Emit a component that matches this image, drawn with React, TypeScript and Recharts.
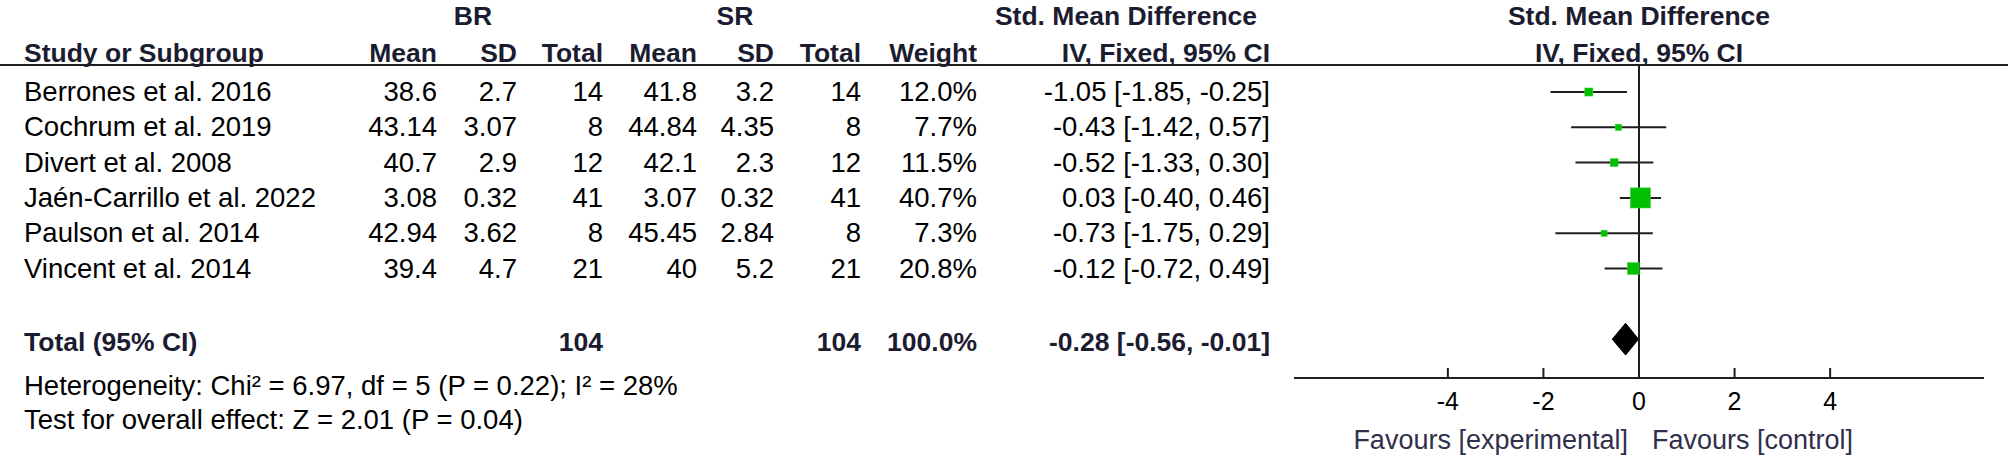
import React from 'react';
import { ComposedChart, Scatter, XAxis, YAxis, ReferenceLine, ErrorBar, Customized } from 'recharts';

// ---------- data ----------
const studies = [
  'Berrones et al. 2016',
  'Cochrum et al. 2019',
  'Divert et al. 2008',
  'Jaén-Carrillo et al. 2022',
  'Paulson et al. 2014',
  'Vincent et al. 2014',
];
const brMean = [38.6, 43.14, 40.7, 3.08, 42.94, 39.4];
const brSD = [2.7, 3.07, 2.9, 0.32, 3.62, 4.7];
const brTotal = [14, 8, 12, 41, 8, 21];
const srMean = [41.8, 44.84, 42.1, 3.07, 45.45, 40];
const srSD = [3.2, 4.35, 2.3, 0.32, 2.84, 5.2];
const srTotal = [14, 8, 12, 41, 8, 21];
const weights = [12.0, 7.7, 11.5, 40.7, 7.3, 20.8];
const smd = [-1.05, -0.43, -0.52, 0.03, -0.73, -0.12];
const ciLow = [-1.85, -1.42, -1.33, -0.4, -1.75, -0.72];
const ciHigh = [-0.25, 0.57, 0.3, 0.46, 0.29, 0.49];

const totalBR = 104;
const totalSR = 104;
const totalWeight = 100.0;
const totalSmd = -0.28;
const totalLow = -0.56;
const totalHigh = -0.01;

const heterogeneityText = 'Heterogeneity: Chi² = 6.97, df = 5 (P = 0.22); I² = 28%';
const overallText = 'Test for overall effect: Z = 2.01 (P = 0.04)';
const favoursLeft = 'Favours [experimental]';
const favoursRight = 'Favours [control]';

const xTicks = [-4, -2, 0, 2, 4];
const xDomain = [-7.22, 7.22];
const yDomain = [0.235, 9.1];
const TOTAL_ROW = 8;
const DIAMOND_HALF = 0.45;

// ---------- layout ----------
const W = 2008;
const H = 457;
const PLOT_LEFT = 1294;
const PLOT_RIGHT = 1984;
const PLOT_TOP = 65;
const AXIS_Y = 378;
const XAXIS_H = 30;

const FONT = '"Liberation Sans", Arial, Helvetica, sans-serif';
const TXT = '#000000';
const HEAD = '#1c1c30';
const FAV = '#30304a';
const GREEN = '#00c000';
const LINE = '#1e1e1e';

const FS = 27.5;
const FSB = 26.5;

const ROW_BASE0 = 101;
const ROW_STEP = 35.3;

const fmtCI = (m: number, l: number, h: number) => `${m.toFixed(2)} [${l.toFixed(2)}, ${h.toFixed(2)}]`;

const studyData = studies.map((s, i) => ({
  name: s,
  x: smd[i],
  y: i + 1,
  err: [smd[i] - ciLow[i], ciHigh[i] - smd[i]],
  w: weights[i],
}));

const diamondData = [
  { x: totalLow, y: TOTAL_ROW },
  { x: totalSmd, y: TOTAL_ROW - DIAMOND_HALF },
  { x: totalHigh, y: TOTAL_ROW },
  { x: totalSmd, y: TOTAL_ROW + DIAMOND_HALF },
  { x: totalLow, y: TOTAL_ROW },
];

type TProps = {
  x: number;
  y: number;
  anchor?: 'start' | 'middle' | 'end';
  bold?: boolean;
  size?: number;
  fill?: string;
  children: React.ReactNode;
};

const T = ({ x, y, anchor = 'end', bold = false, size, fill, children }: TProps) => (
  <text
    x={x}
    y={y}
    textAnchor={anchor}
    fontFamily={FONT}
    fontSize={size ?? (bold ? FSB : FS)}
    fontWeight={bold ? 700 : 400}
    fill={fill ?? (bold ? HEAD : TXT)}
  >
    {children}
  </text>
);

// column right edges
const COL = {
  study: 24,
  brMean: 437,
  brSD: 517,
  brTotal: 603,
  srMean: 697,
  srSD: 774,
  srTotal: 861,
  weight: 977,
  ci: 1270,
};

const Table = () => {
  const h1 = 25;
  const h2 = 62;
  const totalY = 351;
  return (
    <g>
      <line x1={0} x2={W} y1={PLOT_TOP} y2={PLOT_TOP} stroke={LINE} strokeWidth={2} />
      <T x={473} y={h1} anchor="middle" bold>BR</T>
      <T x={735} y={h1} anchor="middle" bold>SR</T>
      <T x={1126} y={h1} anchor="middle" bold>Std. Mean Difference</T>
      <T x={1639} y={h1} anchor="middle" bold>Std. Mean Difference</T>

      <T x={COL.study} y={h2} anchor="start" bold>Study or Subgroup</T>
      <T x={COL.brMean} y={h2} bold>Mean</T>
      <T x={COL.brSD} y={h2} bold>SD</T>
      <T x={COL.brTotal} y={h2} bold>Total</T>
      <T x={COL.srMean} y={h2} bold>Mean</T>
      <T x={COL.srSD} y={h2} bold>SD</T>
      <T x={COL.srTotal} y={h2} bold>Total</T>
      <T x={COL.weight} y={h2} bold>Weight</T>
      <T x={COL.ci} y={h2} bold>IV, Fixed, 95% CI</T>
      <T x={1639} y={h2} anchor="middle" bold>IV, Fixed, 95% CI</T>

      {studies.map((s, i) => {
        const y = ROW_BASE0 + i * ROW_STEP;
        return (
          <g key={s}>
            <T x={COL.study} y={y} anchor="start">{s}</T>
            <T x={COL.brMean} y={y}>{String(brMean[i])}</T>
            <T x={COL.brSD} y={y}>{String(brSD[i])}</T>
            <T x={COL.brTotal} y={y}>{String(brTotal[i])}</T>
            <T x={COL.srMean} y={y}>{String(srMean[i])}</T>
            <T x={COL.srSD} y={y}>{String(srSD[i])}</T>
            <T x={COL.srTotal} y={y}>{String(srTotal[i])}</T>
            <T x={COL.weight} y={y}>{`${weights[i].toFixed(1)}%`}</T>
            <T x={COL.ci} y={y}>{fmtCI(smd[i], ciLow[i], ciHigh[i])}</T>
          </g>
        );
      })}

      <T x={COL.study} y={totalY} anchor="start" bold>Total (95% CI)</T>
      <T x={COL.brTotal} y={totalY} bold>{String(totalBR)}</T>
      <T x={COL.srTotal} y={totalY} bold>{String(totalSR)}</T>
      <T x={COL.weight} y={totalY} bold>{`${totalWeight.toFixed(1)}%`}</T>
      <T x={COL.ci} y={totalY} bold>{fmtCI(totalSmd, totalLow, totalHigh)}</T>

      <T x={COL.study} y={395} anchor="start">{heterogeneityText}</T>
      <T x={COL.study} y={429} anchor="start">{overallText}</T>

      <T x={1628} y={449} anchor="end" size={27} fill={FAV}>{favoursLeft}</T>
      <T x={1652} y={449} anchor="start" size={27} fill={FAV}>{favoursRight}</T>
    </g>
  );
};

const AxisTick = (props: any) => {
  const { x, y, payload } = props;
  return (
    <g>
      <line x1={x} x2={x} y1={y - 10} y2={y} stroke={LINE} strokeWidth={2} />
      <text x={x} y={y + 32} textAnchor="middle" fontFamily={FONT} fontSize={25} fill={TXT}>
        {String(payload.value)}
      </text>
    </g>
  );
};

const SquareShape = (props: any) => {
  const { cx, cy, payload } = props;
  if (cx == null || cy == null) return <g />;
  const s = 3 + 0.42 * payload.w;
  return <rect x={cx - s / 2} y={cy - s / 2} width={s} height={s} fill={GREEN} stroke="#3fd03f" strokeWidth={0.6} />;
};

const NoShape = () => <g />;

export default function App() {
  return (
    <div style={{ position: 'absolute', left: 0, top: 0, width: W, height: H, background: '#fff' }}>
      <ComposedChart
        width={W}
        height={H}
        data={studyData}
        margin={{ top: PLOT_TOP, left: PLOT_LEFT, right: W - PLOT_RIGHT, bottom: H - AXIS_Y - XAXIS_H }}
      >
        <XAxis
          type="number"
          dataKey="x"
          domain={xDomain}
          ticks={xTicks}
          allowDataOverflow
          height={XAXIS_H}
          axisLine={{ stroke: LINE, strokeWidth: 2 }}
          tickLine={false}
          tickSize={0}
          tickMargin={0}
          tick={<AxisTick />}
          interval={0}
        />
        <YAxis type="number" dataKey="y" domain={yDomain} reversed hide width={0} allowDataOverflow />
        <ReferenceLine x={0} stroke={LINE} strokeWidth={2} />
        <Scatter data={studyData} shape={<NoShape />} isAnimationActive={false}>
          <ErrorBar dataKey="err" direction="x" width={0} stroke={LINE} strokeWidth={2} isAnimationActive={false} />
        </Scatter>
        <Scatter data={studyData} shape={<SquareShape />} isAnimationActive={false} />
        <Scatter
          data={diamondData}
          shape={<NoShape />}
          line={{ fill: '#000', stroke: '#000', strokeWidth: 1 }}
          lineType="joint"
          isAnimationActive={false}
        />
        <Customized component={<Table />} />
      </ComposedChart>
    </div>
  );
}
